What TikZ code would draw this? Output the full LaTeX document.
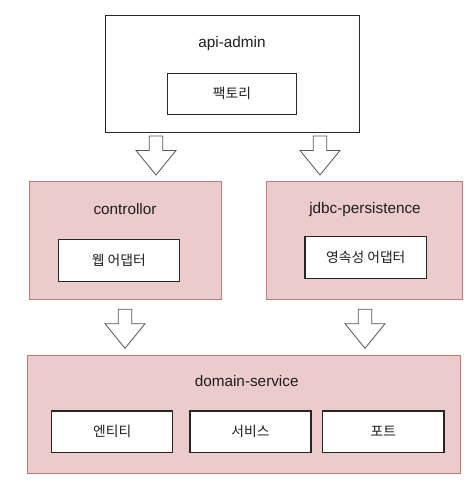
\documentclass[tikz,border=0pt]{standalone}
\usepackage{fontspec}
\setmainfont{Liberation Sans}
\newfontfamily\kofont{Noto Sans CJK KR}
\definecolor{pinkfill}{HTML}{EBCBCB}
\definecolor{pinkline}{HTML}{C07A78}
\definecolor{txt}{HTML}{1E1E1E}
\definecolor{arrline}{HTML}{555555}
\tikzset{
  outerbox/.style={draw=black!85, line width=0.9pt, fill=white},
  modbox/.style={draw=pinkline, line width=0.9pt, fill=pinkfill},
  innerbox/.style={draw=black!85, line width=1.1pt, fill=white, inner sep=0pt, text=txt, font=\kofont\fontsize{13.8}{16}\selectfont},
  title/.style={text=txt, font=\fontsize{15.3}{18}\selectfont, inner sep=0pt},
  blockarrow/.style={draw=arrline, line width=0.8pt, fill=white, line join=miter}
}
\newcommand{\blkarrow}[3]{% name, center x, top y
  \draw[blockarrow] (#2-6.7,#3) -- (#2+6.7,#3) -- (#2+6.7,#3+14.5) -- (#2+20,#3+14.5)
    -- (#2,#3+39) -- (#2-20,#3+14.5) -- (#2-6.7,#3+14.5) -- cycle;
  \coordinate (#1) at (#2,#3);
}
\begin{document}
\begin{tikzpicture}[x=1pt,y=-1pt]
\useasboundingbox (0,0) rectangle (471,488);
% api-admin
\draw[outerbox] (105,15) rectangle (359.3,132);
\node[title] (apititle) at (232,43.5) {api-admin};
\node[innerbox, minimum width=129.4pt, minimum height=41pt] (factory) at (232,93.8) {팩토리};
% controllor
\draw[modbox] (29.3,181.7) rectangle (221,299);
\node[title] (ctrltitle) at (125,209.5) {controllor};
\node[innerbox, minimum width=121pt, minimum height=41.7pt] (web) at (118.8,260.2) {웹 어댑터};
% jdbc-persistence
\draw[modbox] (266.7,181.7) rectangle (462.7,299);
\node[title] (jdbctitle) at (365,209.5) {jdbc-persistence};
\node[innerbox, minimum width=121.7pt, minimum height=41.6pt] (persist) at (365.8,257.5) {영속성 어댑터};
% domain-service
\draw[modbox] (27.3,355.7) rectangle (460,473.3);
\node[title] (domtitle) at (246.7,381.5) {domain-service};
\node[innerbox, minimum width=121pt, minimum height=41.7pt] (entity) at (112.2,431.8) {엔티티};
\node[innerbox, minimum width=121pt, minimum height=41.7pt] (service) at (250.5,431.8) {서비스};
\node[innerbox, minimum width=121.3pt, minimum height=41.7pt] (port) at (383.3,431.8) {포트};
% block arrows
\blkarrow{a1}{156}{136}
\blkarrow{a2}{320}{136}
\blkarrow{a3}{125}{309.3}
\blkarrow{a4}{365}{309.3}
\end{tikzpicture}
\end{document}
